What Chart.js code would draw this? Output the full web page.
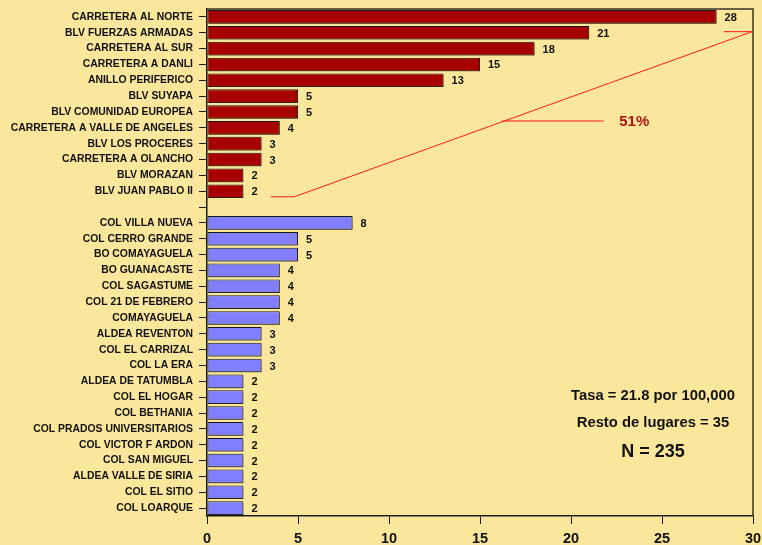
<!DOCTYPE html>
<html>
<head>
<meta charset="utf-8">
<script src="https://cdn.jsdelivr.net/npm/chart.js@4/dist/chart.umd.min.js"></script>
<style>
  html, body { margin: 0; padding: 0; background: #FAE79C; }
  #wrap { width: 762px; height: 545px; }
</style>
</head>
<body>
<div id="wrap"><canvas id="lugares"></canvas></div>
<script>
// Lugares (vías principales y colonias) con sus casos
const vias = ['CARRETERA AL NORTE', 'BLV FUERZAS ARMADAS', 'CARRETERA AL SUR', 'CARRETERA A DANLI',
  'ANILLO PERIFERICO', 'BLV SUYAPA', 'BLV COMUNIDAD EUROPEA', 'CARRETERA A VALLE DE ANGELES',
  'BLV LOS PROCERES', 'CARRETERA A OLANCHO', 'BLV MORAZAN', 'BLV JUAN PABLO II'];
const viasCasos = [28, 21, 18, 15, 13, 5, 5, 4, 3, 3, 2, 2];

const colonias = ['COL VILLA NUEVA', 'COL CERRO GRANDE', 'BO COMAYAGUELA', 'BO GUANACASTE',
  'COL SAGASTUME', 'COL 21 DE FEBRERO', 'COMAYAGUELA', 'ALDEA REVENTON', 'COL EL CARRIZAL',
  'COL LA ERA', 'ALDEA DE TATUMBLA', 'COL EL HOGAR', 'COL BETHANIA', 'COL PRADOS UNIVERSITARIOS',
  'COL VICTOR F ARDON', 'COL SAN MIGUEL', 'ALDEA VALLE DE SIRIA', 'COL EL SITIO', 'COL LOARQUE'];
const coloniasCasos = [8, 5, 5, 4, 4, 4, 4, 3, 3, 3, 2, 2, 2, 2, 2, 2, 2, 2, 2];

const xTicks = [0, 5, 10, 15, 20, 25, 30];
const notas = ['Tasa = 21.8 por 100,000', 'Resto de lugares = 35', 'N = 235'];
const porcentaje = '51%';

// one empty row separates the two groups
const labels = [...vias, '', ...colonias];
const valores = [...viasCasos, null, ...coloniasCasos];
const colores = [...vias.map(() => '#A80000'), '#000', ...colonias.map(() => '#7F7FFF')];

const FONT = '"Liberation Sans", Arial, sans-serif';

const extras = {
  id: 'extras',
  beforeDatasetsDraw(chart) {
    const ctx = chart.ctx;
    ctx.save();
    ctx.shadowColor = 'rgba(60,50,20,0.45)';
    ctx.shadowOffsetX = 2;
    ctx.shadowOffsetY = 2;
  },
  afterDatasetsDraw(chart) {
    const ctx = chart.ctx;
    ctx.restore();
    const x = chart.scales.x, y = chart.scales.y;
    const meta = chart.getDatasetMeta(0);

    // value labels
    ctx.save();
    ctx.font = 'bold 11px ' + FONT;
    ctx.fillStyle = '#111';
    ctx.textBaseline = 'middle';
    meta.data.forEach((bar, i) => {
      if (valores[i] == null) return;
      ctx.fillText(String(valores[i]), bar.x + 8, bar.y + 1);
    });
    ctx.restore();

    // frame
    const a = chart.chartArea;
    ctx.save();
    ctx.strokeStyle = '#3a3220';
    ctx.lineWidth = 1.5;
    ctx.beginPath();
    ctx.moveTo(a.left, a.top);
    ctx.lineTo(a.right, a.top);
    ctx.lineTo(a.right, a.bottom);
    ctx.stroke();
    ctx.restore();

    // bracket for the main roads
    const rowY = v => y.getPixelForValue(v);
    ctx.save();
    ctx.strokeStyle = '#FF1A1A';
    ctx.lineWidth = 1;
    ctx.beginPath();
    ctx.moveTo(x.getPixelForValue(3.5), rowY(11.35));
    ctx.lineTo(x.getPixelForValue(4.8), rowY(11.35));
    ctx.lineTo(x.getPixelForValue(29.95), rowY(0.93));
    ctx.lineTo(x.getPixelForValue(28.4), rowY(0.93));
    ctx.moveTo(x.getPixelForValue(16.2), rowY(6.57));
    ctx.lineTo(x.getPixelForValue(21.8), rowY(6.57));
    ctx.stroke();
    ctx.font = 'bold 15px ' + FONT;
    ctx.fillStyle = '#B51212';
    ctx.textBaseline = 'middle';
    ctx.fillText(porcentaje, x.getPixelForValue(22.65), rowY(6.57) + 1);
    ctx.restore();

    // notes
    ctx.save();
    ctx.fillStyle = '#111';
    ctx.textAlign = 'center';
    ctx.textBaseline = 'middle';
    ctx.font = 'bold 14.8px ' + FONT;
    ctx.fillText(notas[0], 653, 396);
    ctx.fillText(notas[1], 653, 423);
    ctx.font = 'bold 18px ' + FONT;
    ctx.fillText(notas[2], 653, 452);
    ctx.restore();
  }
};

new Chart(document.getElementById('lugares'), {
  type: 'bar',
  data: {
    labels: labels,
    datasets: [{
      data: valores,
      backgroundColor: colores,
      borderColor: '#1a1a1a',
      borderWidth: 1,
      borderSkipped: false,
      barPercentage: 0.86,
      categoryPercentage: 1
    }]
  },
  options: {
    indexAxis: 'y',
    responsive: true,
    maintainAspectRatio: false,
    animation: false,
    layout: { padding: { top: 9, right: 9, left: 0, bottom: 0 } },
    plugins: {
      legend: { display: false },
      tooltip: { enabled: false }
    },
    scales: {
      x: {
        min: 0,
        max: 30,
        afterBuildTicks: s => { s.ticks = xTicks.map(v => ({ value: v })); },
        afterFit: s => { s.height = 29; s.paddingLeft = 0; s.paddingRight = 0; },
        grid: { drawOnChartArea: false, tickLength: 8, color: '#1a1a1a', tickColor: '#1a1a1a' },
        border: { color: '#1a1a1a', width: 1.5 },
        ticks: { color: '#111', padding: 6, font: { family: FONT, size: 14.5, weight: 'bold' }, maxRotation: 0 }
      },
      y: {
        afterFit: s => { s.width = 207; s.paddingTop = 0; s.paddingBottom = 0; },
        grid: { drawOnChartArea: false, offset: false, tickLength: 8, color: '#1a1a1a', tickColor: '#1a1a1a' },
        border: { color: '#1a1a1a', width: 1.5 },
        ticks: { color: '#111', padding: 6, autoSkip: false, font: { family: FONT, size: 10.4, weight: 'bold' } }
      }
    }
  },
  plugins: [extras]
});
</script>
</body>
</html>
